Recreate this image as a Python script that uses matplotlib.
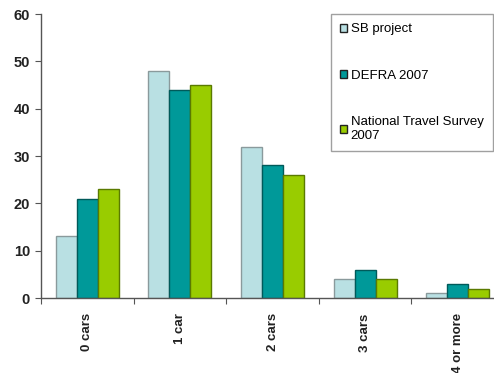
import numpy as np
import matplotlib.pyplot as plt

plt.rcParams['font.family'] = ['Liberation Sans', 'DejaVu Sans']

categories = ['0 cars', '1 car', '2 cars', '3 cars', '4 or more']
sb_project = [13, 48, 32, 4, 1]
defra_2007 = [21, 44, 28, 6, 3]
nts_2007 = [23, 45, 26, 4, 2]

series = [
    ('SB project', sb_project, '#B9E0E3', '#8A9A9C'),
    ('DEFRA 2007', defra_2007, '#009999', '#005A5A'),
    ('National Travel Survey\n2007', nts_2007, '#99CC00', '#5A7A00'),
]

fig = plt.figure(figsize=(4.94, 3.73), dpi=100)
ax = fig.add_axes([41 / 494, 1 - 298 / 373, 463 / 494, 284 / 373])

x = np.arange(len(categories))
w = 0.227
for i, (name, vals, fc, ec) in enumerate(series):
    ax.bar(x + (i - 1) * w, vals, w, color=fc, edgecolor=ec, linewidth=1.0, label=name)

ax.set_xlim(-0.5, len(categories) - 0.5)
ax.set_ylim(0, 60)
ax.set_yticks(range(0, 61, 10))
ax.set_xticks(np.arange(-0.5, len(categories), 1.0))
ax.set_xticklabels([])
ax.set_xticks(x, minor=True)
ax.set_xticklabels(categories, minor=True, rotation=90, fontsize=9.5, fontweight='bold', color='#222222')
ax.tick_params(axis='x', which='minor', length=0, pad=11)
ax.tick_params(axis='x', which='major', length=4, direction='out', color='#555555')
ax.tick_params(axis='y', length=4, color='#555555', labelsize=10.5, pad=4)
for lab in ax.get_yticklabels():
    lab.set_fontweight('bold')
    lab.set_color('#222222')

for s in ['top', 'right']:
    ax.spines[s].set_visible(False)
for s in ['left', 'bottom']:
    ax.spines[s].set_color('#555555')
    ax.spines[s].set_linewidth(1.0)

leg = fig.legend(loc='upper left', bbox_to_anchor=(331 / 494, 1 - 14 / 373), fontsize=9.5,
                 frameon=True, fancybox=False, edgecolor='#888888', labelspacing=2.6,
                 handlelength=0.55, handleheight=0.55, handletextpad=0.25, borderpad=0.7,
                 borderaxespad=0)
leg.get_frame().set_linewidth(1.0)
for h in leg.legend_handles:
    h.set_edgecolor('#222222')

fig.savefig('out.png', dpi=100)
